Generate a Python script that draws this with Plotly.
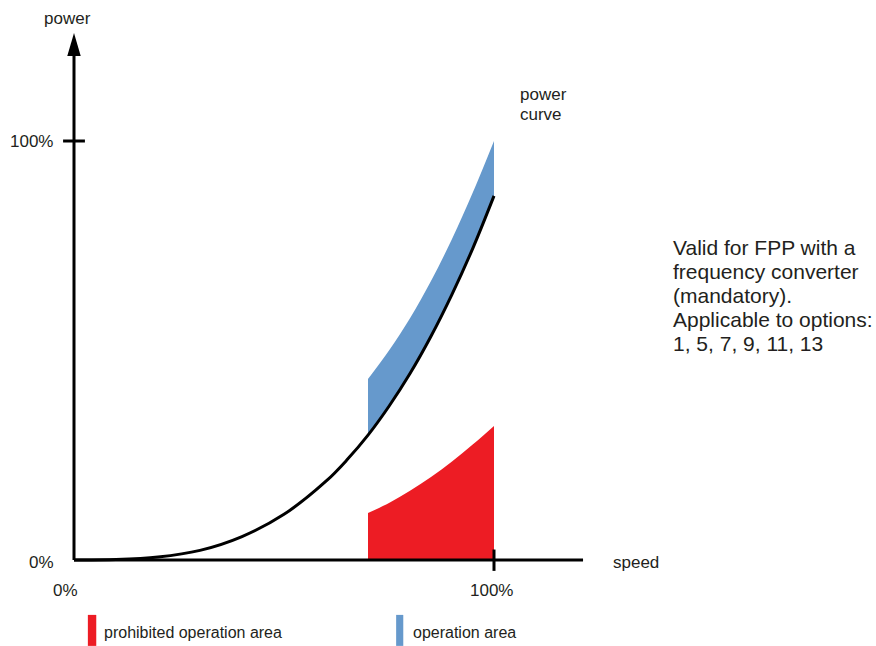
import plotly.graph_objects as go

# power curve (speed %, power %)
curve_speed = [0, 10, 20, 30, 40, 50, 60, 65, 70, 75, 80, 85, 90, 95, 100]
curve_power = [0, 0.1, 0.7, 2.3, 5.6, 10.9, 18.8, 23.9, 29.8, 36.7, 44.5, 53.4, 63.4, 74.5, 86.9]

# operation area (blue band above the curve)
op_speed = [70, 75, 80, 85, 90, 95, 100]
op_lower = [29.8, 36.7, 44.5, 53.4, 63.4, 74.5, 86.9]
op_upper = [43.2, 50.0, 57.7, 66.6, 76.6, 87.8, 100.0]

# prohibited operation area (red, from zero)
pr_speed = [70, 75, 80, 85, 90, 95, 100]
pr_upper = [11.2, 13.6, 16.5, 19.8, 23.5, 27.6, 32.0]

note_lines = [
    "Valid for FPP with a",
    "frequency converter",
    "(mandatory).",
    "Applicable to options:",
    "1, 5, 7, 9, 11, 13",
]

RED = "#ed1c24"
BLUE = "#6699cc"
INK = "#231f20"
FONT = "Arial, Liberation Sans, sans-serif"

fig = go.Figure()

fig.add_trace(go.Scatter(x=op_speed, y=op_lower, mode="lines",
                         line=dict(width=0, color=BLUE, shape="spline"),
                         hoverinfo="skip", showlegend=False))
fig.add_trace(go.Scatter(x=op_speed, y=op_upper, mode="lines", fill="tonexty",
                         fillcolor=BLUE, line=dict(width=0, color=BLUE, shape="spline"),
                         name="operation area", showlegend=False))
fig.add_trace(go.Scatter(x=pr_speed, y=pr_upper, mode="lines", fill="tozeroy",
                         fillcolor=RED, line=dict(width=0, color=RED, shape="spline"),
                         name="prohibited operation area", showlegend=False))
fig.add_trace(go.Scatter(x=curve_speed, y=curve_power, mode="lines",
                         line=dict(color="black", width=3, shape="spline"),
                         name="power curve", showlegend=False))

# axes drawn by hand (arrowed y axis, crossing ticks)
ax_line = dict(color="black", width=3)
shapes = [
    dict(type="line", xref="x", yref="y", x0=0, x1=121.2, y0=0, y1=0, line=ax_line),
    dict(type="line", xref="x", yref="y", x0=0, x1=0, y0=0, y1=121.0, line=ax_line),
    dict(type="path", xref="x", yref="y", path="M -1.6,120.3 L 0,125.8 L 1.6,120.3 Z",
         fillcolor="black", line=dict(width=0)),
    dict(type="line", xref="x", yref="y", x0=-2.6, x1=2.6, y0=100, y1=100, line=ax_line),
    dict(type="line", xref="x", yref="y", x0=100, x1=100, y0=2.5, y1=-2.6, line=ax_line),
    # legend swatches
    dict(type="rect", xref="x", yref="y", x0=3.3, x1=5.3, y0=-13.1, y1=-20.5,
         fillcolor=RED, line=dict(width=0)),
    dict(type="rect", xref="x", yref="y", x0=76.7, x1=78.4, y0=-13.1, y1=-20.5,
         fillcolor=BLUE, line=dict(width=0)),
]

ann = []


def label(text, x, y, size=17, xanchor="center"):
    ann.append(dict(text=text, x=x, y=y, xref="x", yref="y", showarrow=False,
                    xanchor=xanchor, yanchor="middle",
                    font=dict(family=FONT, size=size, color=INK)))


label("power", -1.5, 129.3)
label("100%", -10.2, 100)
label("0%", -7.7, -0.7)
label("0%", -2.1, -7.2)
label("100%", 99.5, -7.2)
label("speed", 127.8, -0.5, xanchor="left")
label("power", 105.7, 111.2, xanchor="left")
label("curve", 105.7, 106.4, xanchor="left")
label("prohibited operation area", 6.6, -17.4, size=16, xanchor="left")
label("operation area", 80.2, -17.4, size=16, xanchor="left")
for i, line in enumerate(note_lines):
    label(line, 142.2, 74.7 - i * 5.73, size=21, xanchor="left")

fig.update_layout(
    width=876,
    height=646,
    margin=dict(l=0, r=0, t=0, b=0),
    paper_bgcolor="white",
    plot_bgcolor="white",
    xaxis=dict(range=[-74 / 4.2, 802 / 4.2], visible=False, fixedrange=True),
    yaxis=dict(range=[-86 / 4.19, 560 / 4.19], visible=False, fixedrange=True),
    shapes=shapes,
    annotations=ann,
    showlegend=False,
)

fig.write_html("out.html", config={"displayModeBar": False},
               post_script="document.body.style.margin='0';")
